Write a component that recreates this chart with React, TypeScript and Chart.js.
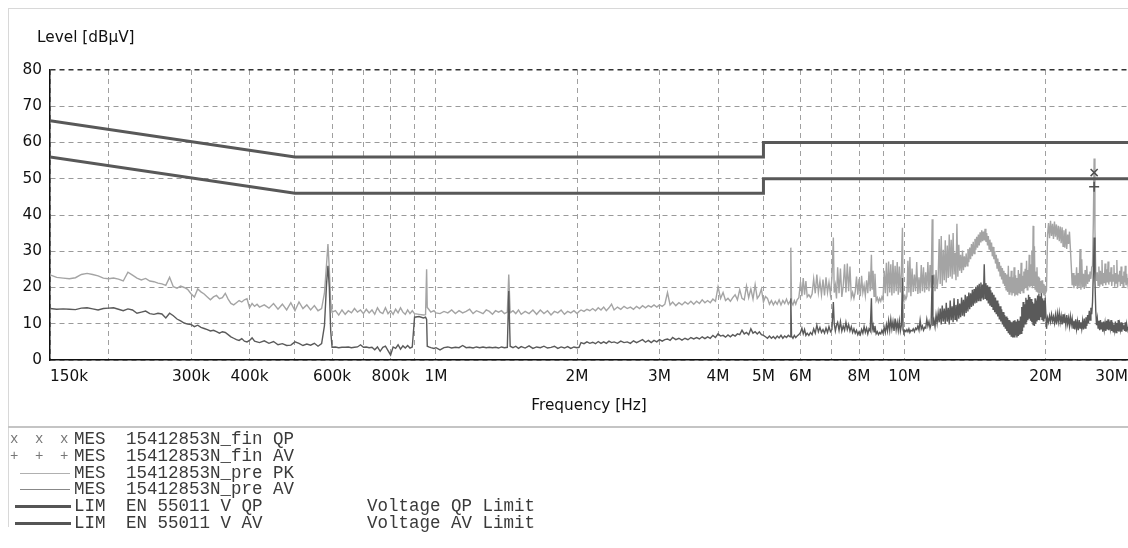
import React, { useEffect, useRef } from "react";
import { Chart, registerables } from "chart.js";

Chart.register(...registerables);

// ---------- measured spectrum (frequency in MHz, level in dBµV) ----------
const freqMHz = [
  0.150, 0.155, 0.160, 0.165, 0.170, 0.175, 0.180, 0.185, 0.190, 0.195,
  0.200, 0.205, 0.210, 0.215, 0.220, 0.225, 0.230, 0.235, 0.240, 0.245,
  0.250, 0.255, 0.260, 0.265, 0.270, 0.275, 0.280, 0.285, 0.290, 0.295,
  0.300, 0.305, 0.310, 0.315, 0.320, 0.325, 0.330, 0.335, 0.340, 0.345,
  0.350, 0.355, 0.360, 0.365, 0.370, 0.375, 0.380, 0.385, 0.390, 0.395,
  0.400, 0.405, 0.410, 0.415, 0.420, 0.430, 0.440, 0.450, 0.460, 0.470,
  0.480, 0.490, 0.500, 0.510, 0.520, 0.530, 0.540, 0.550, 0.560, 0.570,
  0.578, 0.584, 0.588, 0.592, 0.596, 0.600, 0.610, 0.620, 0.630, 0.640,
  0.650, 0.660, 0.670, 0.680, 0.690, 0.700, 0.710, 0.720, 0.730, 0.740,
  0.750, 0.760, 0.770, 0.780, 0.790, 0.800, 0.810, 0.820, 0.830, 0.840,
  0.850, 0.860, 0.870, 0.880, 0.890, 0.900, 0.920, 0.940, 0.950, 0.955,
  0.958, 0.965, 0.975, 0.990,
  1.00, 1.02, 1.04, 1.06, 1.08, 1.10, 1.12, 1.14, 1.16, 1.18,
  1.20, 1.22, 1.24, 1.26, 1.28, 1.30, 1.32, 1.34, 1.36, 1.38,
  1.40, 1.42, 1.43, 1.44, 1.46, 1.48, 1.50, 1.52, 1.55, 1.58,
  1.61, 1.64, 1.67, 1.70, 1.73, 1.76, 1.79, 1.82, 1.85, 1.88,
  1.91, 1.94, 1.97, 2.00,
  2.02, 2.04, 2.07, 2.10, 2.13, 2.16, 2.19, 2.22, 2.25, 2.28,
  2.31, 2.34, 2.37, 2.40, 2.44, 2.48, 2.52, 2.56, 2.60, 2.64,
  2.68, 2.72, 2.76, 2.80, 2.84, 2.88, 2.92, 2.96, 3.00, 3.04,
  3.08, 3.12, 3.16, 3.20, 3.25, 3.30, 3.35, 3.40, 3.45, 3.50,
  3.55, 3.60, 3.65, 3.70, 3.75, 3.80, 3.85, 3.90, 3.95, 4.00,
  4.05, 4.10, 4.15, 4.20, 4.25, 4.30, 4.35, 4.40, 4.45, 4.50,
  4.55, 4.60, 4.65, 4.70, 4.75, 4.80, 4.85, 4.90, 4.95, 5.00,
  5.05, 5.10, 5.15, 5.20, 5.25, 5.30, 5.35, 5.40, 5.45, 5.50,
  5.55, 5.60, 5.65, 5.70, 5.72, 5.74, 5.78, 5.82, 5.86, 5.90,
  5.95, 6.00, 6.04, 6.08, 6.12, 6.16, 6.20, 6.25, 6.30, 6.35,
  6.40, 6.45, 6.50, 6.55, 6.60, 6.65, 6.70, 6.75, 6.80, 6.85,
  6.90, 6.95, 7.00, 7.05, 7.08, 7.12, 7.16, 7.20, 7.25, 7.30,
  7.35, 7.40, 7.45, 7.50, 7.55, 7.60, 7.65, 7.70, 7.75, 7.80,
  7.85, 7.90, 7.95, 8.00, 8.05, 8.10, 8.15, 8.20, 8.25, 8.30,
  8.35, 8.40, 8.45, 8.50, 8.53, 8.57, 8.61, 8.65, 8.70, 8.75,
  8.80, 8.85, 8.90, 8.95, 9.00, 9.05, 9.10, 9.15, 9.20, 9.25,
  9.30, 9.35, 9.40, 9.45, 9.50, 9.55, 9.60, 9.65, 9.70, 9.75,
  9.80, 9.85, 9.90, 9.93, 9.97,
  10.02, 10.07, 10.12, 10.17, 10.22, 10.27, 10.32, 10.38, 10.44, 10.50,
  10.56, 10.62, 10.68, 10.74, 10.80, 10.86, 10.92, 10.98, 11.04, 11.10,
  11.16, 11.22, 11.28, 11.34, 11.40, 11.46, 11.50, 11.56, 11.62, 11.68,
  11.74, 11.80, 11.86, 11.92, 11.98, 12.04, 12.10, 12.16, 12.22, 12.28,
  12.34, 12.40, 12.46, 12.52, 12.58, 12.64, 12.70, 12.76, 12.82, 12.88,
  12.94, 13.00, 13.06, 13.12, 13.18, 13.24, 13.30, 13.36, 13.42, 13.48,
  13.54, 13.60, 13.66, 13.72, 13.78, 13.84, 13.90, 13.96, 14.02, 14.08,
  14.14, 14.20, 14.26, 14.32, 14.38, 14.44, 14.50, 14.56, 14.62, 14.68,
  14.74, 14.80, 14.86, 14.92, 14.98,
  15.04, 15.10, 15.16, 15.22, 15.28, 15.34, 15.40, 15.46, 15.52, 15.58,
  15.64, 15.70, 15.76, 15.82, 15.88, 15.94, 16.00, 16.06, 16.12, 16.18,
  16.24, 16.30, 16.36, 16.42, 16.48, 16.54, 16.60, 16.66, 16.72, 16.78,
  16.84, 16.90, 16.96, 17.02, 17.08, 17.14, 17.20, 17.26, 17.32, 17.38,
  17.44, 17.50, 17.56, 17.62, 17.68, 17.74, 17.80, 17.86, 17.92, 17.98,
  18.04, 18.10, 18.16, 18.22, 18.28, 18.34, 18.40, 18.46, 18.52, 18.58,
  18.64, 18.70, 18.76, 18.82, 18.88, 18.94, 19.00, 19.06, 19.12, 19.18,
  19.24, 19.30, 19.36, 19.42, 19.48, 19.54, 19.60, 19.66, 19.72, 19.78,
  19.84, 19.90, 19.96,
  20.10, 20.20, 20.30, 20.40, 20.50, 20.60, 20.70, 20.80, 20.90, 21.00,
  21.10, 21.20, 21.30, 21.40, 21.50, 21.60, 21.70, 21.80, 21.90, 22.00,
  22.10, 22.20, 22.30, 22.40, 22.50, 22.60, 22.70, 22.80, 22.90, 23.00,
  23.10, 23.20, 23.30, 23.40, 23.50, 23.60, 23.70, 23.80, 23.90, 24.00,
  24.10, 24.20, 24.30, 24.40, 24.50, 24.60, 24.70, 24.80, 24.90, 25.00,
  25.10, 25.20, 25.30, 25.40, 25.50, 25.60, 25.70, 25.80, 25.90, 26.00,
  26.10, 26.20, 26.30, 26.40, 26.50, 26.60, 26.70, 26.80, 26.90, 27.00,
  27.10, 27.20, 27.30, 27.40, 27.50, 27.60, 27.70, 27.80, 27.90, 28.00,
  28.10, 28.20, 28.30, 28.40, 28.50, 28.60, 28.70, 28.80, 28.90, 29.00,
  29.10, 29.20, 29.30, 29.40, 29.50, 29.60, 29.70, 29.80, 29.90, 30.00,
];

const pkLevel = [
  23.5, 22.8, 22.6, 22.4, 22.7, 23.6, 23.9, 23.6, 23.2, 22.6,
  22.4, 22.6, 22.3, 21.8, 24.2, 23.4, 22.6, 22.1, 22.5, 21.8,
  21.6, 21.2, 21.0, 20.6, 22.8, 20.2, 19.8, 20.4, 20.0, 19.5,
  18.3, 17.4, 19.6, 18.8, 18.2, 17.4, 16.6, 17.4, 17.8, 16.9,
  17.2, 18.4, 16.8, 15.6, 15.2, 15.8, 16.4, 16.0, 16.6, 16.9,
  14.4, 15.6, 14.8, 15.4, 14.6, 15.2, 14.3, 15.6, 14.0, 15.4,
  13.8, 15.8, 13.6, 16.0, 14.2, 15.2, 13.8, 15.0, 13.6, 14.2,
  18.5, 26.5, 32.0, 25.0, 16.0, 13.2, 13.6, 12.4, 13.8, 12.6,
  13.6, 13.0, 14.2, 13.2, 13.8, 12.8, 14.0, 13.0, 13.8, 12.6,
  14.4, 13.2, 12.8, 14.4, 12.8, 13.6, 12.6, 14.0, 13.0, 14.4,
  13.2, 12.6, 13.8, 12.8, 13.6, 12.8, 12.6, 12.4, 12.5, 25.0,
  14.5, 14.0, 13.2, 13.6,
  13.0, 12.8, 13.4, 13.0, 13.8, 12.8, 13.6, 13.0, 13.4, 14.0,
  12.8, 13.6, 13.2, 12.8, 13.8, 13.4, 12.6, 13.6, 13.2, 13.6,
  12.8, 13.2, 23.6, 13.0, 13.6, 12.8, 13.8, 12.6, 13.4, 12.8,
  13.8, 12.6, 13.8, 12.8, 13.6, 12.4, 13.4, 13.0, 13.8, 12.6,
  13.4, 13.0, 13.6, 12.8,
  13.4, 13.8, 13.4, 14.0, 13.6, 14.2, 13.6, 14.4, 13.8, 14.6,
  13.6, 14.4, 15.4, 13.8, 14.6, 14.0, 14.8, 14.2, 14.6, 14.0,
  14.8, 14.2, 15.0, 14.4, 15.0, 14.6, 15.2, 14.6, 15.2, 14.8,
  15.4, 18.6, 15.2, 16.0, 15.0, 15.8, 15.2, 16.0, 15.4, 16.2,
  15.4, 16.2, 15.6, 16.6, 15.8, 16.4, 15.8, 16.8, 16.2, 20.2,
  17.0, 18.6, 16.4, 17.0, 16.2, 17.2, 18.0, 16.6, 19.4, 17.0,
  16.6, 20.4, 17.2, 19.6, 16.8, 20.8, 17.0, 17.8, 19.6, 16.0,
  17.5, 17.0, 15.4, 16.4, 15.2, 16.2, 15.4, 16.6, 15.2, 16.4,
  15.6, 16.8, 15.4, 16.2, 31.0, 16.0, 15.2, 16.4, 15.4, 16.6,
  17.2, 21.6, 17.6, 22.6, 18.0, 21.8, 17.4, 18.0, 17.2, 18.2,
  22.4, 18.4, 23.6, 18.6, 21.8, 18.0, 22.2, 17.8, 22.8, 18.6,
  21.4, 18.0, 22.6, 33.8, 18.6, 20.6, 17.0, 25.6, 18.4, 25.2,
  17.4, 20.4, 26.4, 18.6, 26.6, 19.0, 25.8, 17.2, 18.6, 17.0,
  18.8, 23.0, 18.0, 22.4, 17.6, 23.2, 18.6, 20.6, 17.8, 22.0,
  18.4, 24.4, 19.0, 29.0, 19.4, 24.6, 17.6, 23.8, 16.4, 17.2,
  16.0, 17.0, 16.2, 17.4, 16.6, 24.6, 18.4, 26.8, 17.6, 27.2,
  18.6, 26.4, 17.8, 27.6, 18.4, 26.0, 19.0, 27.0, 18.0, 25.8,
  18.6, 24.0, 36.5, 18.0, 17.0,
  17.8, 16.8, 17.6, 27.4, 18.6, 28.4, 17.6, 25.2, 18.8, 23.6,
  19.0, 27.0, 18.2, 22.8, 18.4, 26.2, 19.0, 25.6, 18.6, 24.2,
  19.4, 27.0, 19.0, 26.2, 19.8, 38.8, 20.8, 23.6, 19.0, 24.8,
  19.6, 22.6, 33.4, 21.0, 34.2, 20.4, 30.4, 22.0, 33.0, 21.4,
  31.6, 22.6, 34.6, 23.0, 33.2, 22.4, 35.0, 23.6, 29.6, 22.0,
  37.6, 23.0, 31.8, 24.6, 29.0, 24.0, 30.2, 24.8, 28.6, 25.6,
  29.4, 26.0, 30.6, 27.0, 31.0, 27.8, 32.0, 28.6, 32.6, 29.4,
  33.4, 30.4, 34.0, 31.0, 34.6, 31.6, 35.2, 32.4, 35.8, 32.8,
  35.4, 33.0, 36.2, 32.6, 35.0,
  31.6, 34.2, 30.6, 33.2, 29.8, 32.4, 28.6, 31.2, 27.8, 30.0,
  26.6, 29.0, 25.4, 28.0, 24.4, 27.0, 23.2, 26.0, 22.2, 25.4,
  21.2, 24.6, 20.4, 24.0, 19.4, 23.6, 18.8, 26.0, 18.2, 23.0,
  18.6, 24.6, 17.8, 22.8, 18.4, 25.6, 17.6, 23.4, 18.2, 22.6,
  17.8, 24.8, 18.6, 23.8, 18.2, 26.8, 19.0, 23.2, 18.6, 24.4,
  19.6, 25.2, 20.0, 27.4, 19.4, 24.8, 20.4, 29.0, 20.0, 26.4,
  20.6, 30.2, 19.8, 37.0, 20.4, 31.4, 19.6, 24.4, 19.0, 25.6,
  18.6, 23.0, 18.2, 22.6, 18.6, 21.8, 18.0, 22.0, 18.4, 21.0,
  17.8, 20.6, 18.2,
  19.2, 34.4, 37.8, 33.6, 38.4, 34.2, 37.6, 33.4, 38.2, 34.0,
  37.4, 33.2, 37.0, 32.8, 36.8, 32.2, 36.6, 31.4, 35.8, 31.0,
  36.2, 30.6, 34.6, 32.0, 35.4, 30.8, 26.0, 20.6, 24.0, 19.8,
  23.4, 20.4, 25.6, 19.6, 24.0, 20.2, 30.6, 19.4, 27.8, 20.0,
  23.8, 19.6, 24.8, 20.2, 26.0, 21.0, 23.6, 21.6, 24.4, 22.4,
  25.6, 26.0, 38.0, 55.6, 36.0, 24.4, 21.8, 24.2, 20.6, 25.8,
  20.2, 24.6, 21.0, 27.6, 20.4, 24.0, 21.2, 26.6, 20.6, 25.0,
  21.4, 27.2, 20.8, 24.2, 21.6, 25.6, 20.4, 23.6, 21.8, 26.2,
  20.2, 24.0, 21.2, 27.6, 20.0, 23.6, 21.6, 24.6, 20.4, 25.8,
  21.0, 23.2, 20.2, 24.4, 21.4, 26.0, 20.6, 23.8, 21.2, 22.6,
];

const avLevel = [
  14.2, 14.0, 14.1, 14.0, 13.9, 14.3, 14.4, 14.1, 13.8, 14.2,
  14.3, 14.4, 14.0, 13.6, 14.1, 13.8, 12.9, 13.2, 13.5, 12.8,
  12.6, 12.9, 12.7, 11.6, 12.9, 12.2, 11.3, 10.8, 10.2, 9.9,
  9.8, 9.2, 9.6, 9.0, 8.7, 8.4, 8.0, 8.2, 7.8, 7.4,
  7.8, 7.6, 7.0, 6.4, 6.0, 5.6, 5.4, 5.9, 5.2, 5.0,
  5.4, 6.1, 5.2, 5.0, 4.8, 5.3, 4.6, 5.1, 4.2, 4.5,
  4.0, 4.1, 5.0, 4.6, 4.0, 4.4, 4.1, 4.6, 3.8, 4.5,
  9.5, 21.0, 26.0, 20.0, 8.0, 3.5, 3.6, 3.4, 3.5, 3.5,
  3.6, 3.4, 3.5, 3.6, 4.2, 3.5, 3.6, 3.4, 3.5, 2.8,
  3.6, 2.4, 3.5, 3.8, 2.6, 1.4, 3.6, 3.2, 4.2, 3.0,
  3.9, 3.3, 4.0, 3.3, 3.6, 11.8, 12.0, 11.6, 11.8, 11.2,
  3.8, 3.6, 3.4, 3.2,
  3.4, 2.8, 3.4, 3.6, 3.3, 3.5, 3.4, 4.0, 3.4, 3.5,
  3.3, 3.6, 3.4, 3.6, 3.4, 3.5, 3.4, 3.5, 3.3, 3.6,
  3.4, 3.5, 19.0, 3.8, 3.4, 3.8, 3.2, 3.7, 3.3, 3.9,
  3.2, 3.6, 3.4, 3.8, 3.3, 3.5, 3.8, 3.2, 3.6, 3.3,
  3.7, 3.2, 3.6, 3.4,
  3.5, 4.8, 4.5, 5.0, 4.6, 4.9, 4.5, 5.1, 4.6, 5.0,
  4.6, 5.2, 4.8, 5.0, 4.6, 5.2, 4.8, 5.0, 4.6, 5.3,
  4.8, 5.2, 5.6, 4.9, 5.4, 4.8, 5.4, 5.0, 5.6, 5.2,
  5.6, 5.8, 5.4, 6.2, 5.6, 6.0, 5.5, 6.0, 5.6, 6.2,
  5.8, 6.2, 5.8, 6.4, 5.9, 6.4, 6.0, 6.8, 6.2, 7.2,
  6.6, 6.8, 6.3, 6.9, 6.4, 7.0, 6.6, 7.2, 7.0, 8.2,
  7.2, 7.6, 7.0, 8.6, 7.4, 7.8, 7.2, 7.8, 7.0, 6.8,
  6.4, 6.0, 6.6, 6.0, 6.5, 5.9, 6.6, 6.1, 6.8, 6.0,
  6.6, 6.2, 6.8, 6.4, 17.0, 6.6, 6.0, 6.8, 6.2, 6.6,
  7.0, 7.6, 8.8, 7.2, 8.4, 6.8, 7.4, 6.8, 7.6, 7.0,
  8.6, 7.4, 9.6, 7.8, 9.0, 7.6, 8.4, 7.4, 8.8, 7.6,
  9.2, 7.8, 8.4, 16.0, 10.0, 8.0, 9.6, 10.4, 8.2, 10.6,
  8.0, 9.4, 8.2, 10.4, 8.4, 9.8, 8.0, 9.2, 7.6, 8.6,
  7.4, 8.2, 7.0, 7.8, 7.0, 8.4, 7.4, 9.2, 7.6, 8.8,
  7.2, 8.6, 8.0, 17.0, 8.4, 9.6, 7.8, 9.4, 7.2, 7.8,
  7.0, 7.6, 7.2, 8.2, 7.4, 9.0, 7.6, 9.8, 8.0, 10.8,
  8.2, 11.2, 8.6, 10.6, 8.0, 11.4, 8.4, 10.4, 8.2, 10.8,
  8.0, 9.6, 22.6, 8.4, 7.6,
  8.2, 7.8, 8.4, 7.8, 8.6, 7.6, 8.2, 8.0, 8.6, 7.8,
  8.8, 8.4, 9.4, 8.2, 11.0, 8.6, 9.4, 8.2, 9.0, 8.8,
  11.2, 9.4, 10.6, 8.8, 9.8, 23.4, 9.4, 11.0, 9.2, 12.4,
  10.2, 13.0, 10.4, 14.2, 9.8, 15.0, 10.6, 14.2, 10.0, 15.8,
  10.6, 14.4, 9.8, 16.4, 11.0, 14.8, 10.4, 17.0, 11.2, 15.2,
  10.6, 16.8, 11.4, 15.6, 11.8, 17.2, 12.2, 16.6, 12.0, 18.0,
  13.0, 17.6, 13.4, 18.6, 14.0, 18.4, 14.6, 19.4, 15.0, 19.6,
  15.6, 20.2, 15.8, 20.6, 16.2, 21.0, 16.4, 21.4, 17.0, 20.8,
  16.6, 26.4, 17.0, 21.2, 16.4,
  20.6, 15.6, 20.2, 15.0, 19.2, 14.6, 18.6, 14.0, 18.0, 13.2,
  17.2, 12.6, 16.4, 12.0, 15.6, 11.2, 14.8, 10.6, 14.0, 9.8,
  13.2, 9.2, 12.4, 8.6, 12.0, 8.0, 11.6, 7.4, 11.0, 7.0,
  10.6, 6.6, 10.4, 6.2, 10.8, 6.4, 11.0, 6.8, 10.6, 6.2,
  11.2, 6.6, 10.8, 7.0, 12.0, 7.4, 14.6, 8.0, 16.0, 9.0,
  15.4, 10.0, 17.2, 10.4, 16.6, 11.0, 18.0, 11.6, 17.4, 10.8,
  16.8, 10.4, 16.0, 9.8, 15.6, 9.4, 17.0, 10.0, 16.4, 10.6,
  17.8, 11.2, 18.2, 11.0, 17.6, 11.8, 18.4, 11.2, 17.0, 10.8,
  16.4, 11.4, 17.2,
  8.6, 11.6, 10.4, 12.2, 10.6, 12.6, 10.8, 12.0, 10.2, 12.4,
  9.8, 12.8, 10.6, 13.0, 10.4, 12.2, 9.8, 12.6, 10.2, 11.8,
  9.6, 12.4, 10.0, 11.6, 9.4, 12.0, 9.8, 11.4, 8.8, 10.8,
  8.4, 11.2, 8.6, 10.6, 8.2, 11.0, 8.8, 10.4, 8.6, 10.8,
  8.4, 11.4, 8.8, 11.8, 9.4, 12.4, 10.2, 13.6, 11.0, 14.4,
  12.6, 16.0, 24.0, 33.8, 22.0, 13.8, 9.6, 11.4, 8.8, 10.8,
  8.2, 11.0, 8.6, 10.4, 7.8, 10.6, 8.4, 10.2, 8.0, 10.8,
  8.4, 11.2, 8.2, 10.6, 8.8, 11.0, 8.0, 10.4, 7.8, 9.8,
  8.2, 10.6, 7.6, 10.2, 8.0, 11.0, 7.8, 9.8, 8.4, 10.4,
  7.8, 10.2, 8.6, 9.6, 8.0, 10.4, 7.8, 9.8, 8.4, 9.2,
];

// ---------- limit lines (EN 55011) ----------
const qpLimitFreqMHz = [0.15, 0.5, 5, 5, 30];
const qpLimitLevel = [66, 56, 56, 60, 60];
const avLimitFreqMHz = [0.15, 0.5, 5, 5, 30];
const avLimitLevel = [56, 46, 46, 50, 50];

// ---------- final measurements ----------
const finQpFreqMHz = [25.4];
const finQpLevel = [51.7];
const finAvFreqMHz = [25.4];
const finAvLevel = [47.8];

// ---------- axes ----------
const xGridMHz = [0.15, 0.2, 0.3, 0.4, 0.5, 0.6, 0.7, 0.8, 0.9, 1, 2, 3, 4, 5, 6, 7, 8, 9, 10, 20, 30];
const xLabelMHz = [0.15, 0.3, 0.4, 0.6, 0.8, 1, 2, 3, 4, 5, 6, 8, 10, 20, 30];
const xLabelText = ["150k", "300k", "400k", "600k", "800k", "1M", "2M", "3M", "4M", "5M", "6M", "8M", "10M", "20M", "30M"];
const yMin = 0;
const yMax = 80;
const yStep = 10;
const yTitle = "Level [dBµV]";
const xTitle = "Frequency [Hz]";

// ---------- legend ----------
const legendKind = ["MES", "MES", "MES", "MES", "LIM", "LIM"];
const legendName = ["15412853N_fin QP", "15412853N_fin AV", "15412853N_pre PK", "15412853N_pre AV", "EN 55011 V QP", "EN 55011 V AV"];
const legendNote = ["", "", "", "", "Voltage QP Limit", "Voltage AV Limit"];
const legendSymbol = ["x", "+", "thin-light", "thin-dark", "thick", "thick"];

const SANS = "'DejaVu Sans', sans-serif";
const MONO = "'Liberation Mono', monospace";
const PK_COLOR = "#a4a4a4";
const AV_COLOR = "#5a5a5a";
const LIMIT_COLOR = "#585858";

const toPoints = (xs: number[], ys: number[]) => {
  const n = Math.min(xs.length, ys.length);
  const out: { x: number; y: number }[] = [];
  for (let i = 0; i < n; i++) out.push({ x: xs[i], y: ys[i] });
  return out;
};

const labelFor = (v: number) => {
  const i = xLabelMHz.findIndex((m) => Math.abs(m - v) < 1e-6);
  return i >= 0 ? xLabelText[i] : "";
};

export default function App() {
  const canvasRef = useRef<HTMLCanvasElement | null>(null);

  useEffect(() => {
    if (!canvasRef.current) return;
    const chart = new Chart(canvasRef.current, {
      type: "line",
      data: {
        datasets: [
          {
            label: "fin QP",
            data: toPoints(finQpFreqMHz, finQpLevel),
            showLine: false,
            pointStyle: "crossRot",
            pointRadius: 5,
            borderColor: "#505050",
            borderWidth: 1.5,
            backgroundColor: "transparent",
          },
          {
            label: "fin AV",
            data: toPoints(finAvFreqMHz, finAvLevel),
            showLine: false,
            pointStyle: "cross",
            pointRadius: 5,
            borderColor: "#505050",
            borderWidth: 1.5,
            backgroundColor: "transparent",
          },
          {
            label: "QP limit",
            data: toPoints(qpLimitFreqMHz, qpLimitLevel),
            borderColor: LIMIT_COLOR,
            borderWidth: 3,
            pointRadius: 0,
            tension: 0,
          },
          {
            label: "AV limit",
            data: toPoints(avLimitFreqMHz, avLimitLevel),
            borderColor: LIMIT_COLOR,
            borderWidth: 3,
            pointRadius: 0,
            tension: 0,
          },
          {
            label: "pre AV",
            data: toPoints(freqMHz, avLevel),
            borderColor: AV_COLOR,
            borderWidth: 1.4,
            pointRadius: 0,
            tension: 0,
          },
          {
            label: "pre PK",
            data: toPoints(freqMHz, pkLevel),
            borderColor: PK_COLOR,
            borderWidth: 1.4,
            pointRadius: 0,
            tension: 0,
          },
        ],
      },
      options: {
        responsive: false,
        animation: false,
        events: [],
        layout: { autoPadding: false, padding: { left: 0, right: 0, top: 70, bottom: 0 } },
        plugins: {
          legend: { display: false },
          tooltip: { enabled: false },
          title: { display: false },
        },
        scales: {
          x: {
            type: "logarithmic",
            min: 0.15,
            max: 30,
            afterBuildTicks: (scale: any) => {
              scale.ticks = xGridMHz.map((v) => ({ value: v }));
            },
            afterFit: (scale: any) => {
              scale.height = 70;
              scale.paddingLeft = 0;
              scale.paddingRight = 0;
            },
            ticks: {
              autoSkip: false,
              maxRotation: 0,
              minRotation: 0,
              align: "inner",
              padding: 8,
              color: "#111",
              font: { family: SANS, size: 15.3 },
              callback: (v: any) => labelFor(Number(v)),
            },
            grid: { drawTicks: false, color: "#a0a0a0", lineWidth: 1 },
            border: { display: true, color: "#111", width: 1.5, dash: [5, 4] },
            title: {
              display: true,
              text: xTitle,
              color: "#111",
              font: { family: SANS, size: 15.3 },
              padding: { top: 0, bottom: 15 },
            },
          },
          y: {
            min: yMin,
            max: yMax,
            afterFit: (scale: any) => {
              scale.width = 50;
            },
            ticks: {
              stepSize: yStep,
              padding: 8,
              color: "#111",
              font: { family: SANS, size: 15.3 },
            },
            grid: {
              drawTicks: false,
              color: (ctx: any) => (ctx.tick && ctx.tick.value === yMax ? "#333" : "#9a9a9a"),
              lineWidth: (ctx: any) => (ctx.tick && ctx.tick.value === yMax ? 1.6 : 1),
            },
            border: { display: true, color: "#111", width: 1.5, dash: [5, 4] },
          },
        },
      },
    } as any);
    return () => chart.destroy();
  }, []);

  const rowTop = (i: number) => 431 + i * 16.8;

  return (
    <div
      style={{
        position: "absolute",
        left: 0,
        top: 0,
        width: 1128,
        height: 548,
        overflow: "hidden",
        background: "#fff",
      }}
    >
      <div
        style={{
          position: "absolute",
          left: 8,
          top: 8,
          width: 1140,
          height: 518,
          borderTop: "1px solid #d8d8d8",
          borderLeft: "1px solid #d8d8d8",
        }}
      />
      <div style={{ position: "absolute", left: 8, top: 426, width: 1120, height: 2, background: "#c4c4c4" }} />
      <canvas ref={canvasRef} width={1128} height={430} style={{ position: "absolute", left: 0, top: 0, width: 1128, height: 430 }} />
      <div
        style={{
          position: "absolute",
          left: 37,
          top: 28,
          fontFamily: SANS,
          fontSize: 15.3,
          lineHeight: "18px",
          color: "#111",
          whiteSpace: "pre",
        }}
      >
        {yTitle}
      </div>
      {legendKind.map((kind, i) => {
        const top = rowTop(i);
        const sym = legendSymbol[i];
        return (
          <div key={i} style={{ position: "absolute", left: 0, top, width: 1128, height: 17, fontFamily: MONO, fontSize: 17.5, lineHeight: "17px", color: "#3a3a3a" }}>
            {sym === "x" || sym === "+"
              ? [14, 39, 64].map((x) => (
                  <span key={x} style={{ position: "absolute", left: x - 4, top: 0, fontSize: 14, color: "#777" }}>
                    {sym}
                  </span>
                ))
              : null}
            {sym === "thin-light" ? <div style={{ position: "absolute", left: 20, top: 8, width: 50, height: 1, background: "#b0b0b0" }} /> : null}
            {sym === "thin-dark" ? <div style={{ position: "absolute", left: 20, top: 8, width: 50, height: 1, background: "#888" }} /> : null}
            {sym === "thick" ? <div style={{ position: "absolute", left: 15, top: 7, width: 56, height: 3, background: "#555" }} /> : null}
            <span style={{ position: "absolute", left: 74, top: 0, whiteSpace: "pre" }}>{kind}</span>
            <span style={{ position: "absolute", left: 126, top: 0, whiteSpace: "pre" }}>{legendName[i]}</span>
            {legendNote[i] ? <span style={{ position: "absolute", left: 367, top: 0, whiteSpace: "pre" }}>{legendNote[i]}</span> : null}
          </div>
        );
      })}
    </div>
  );
}
